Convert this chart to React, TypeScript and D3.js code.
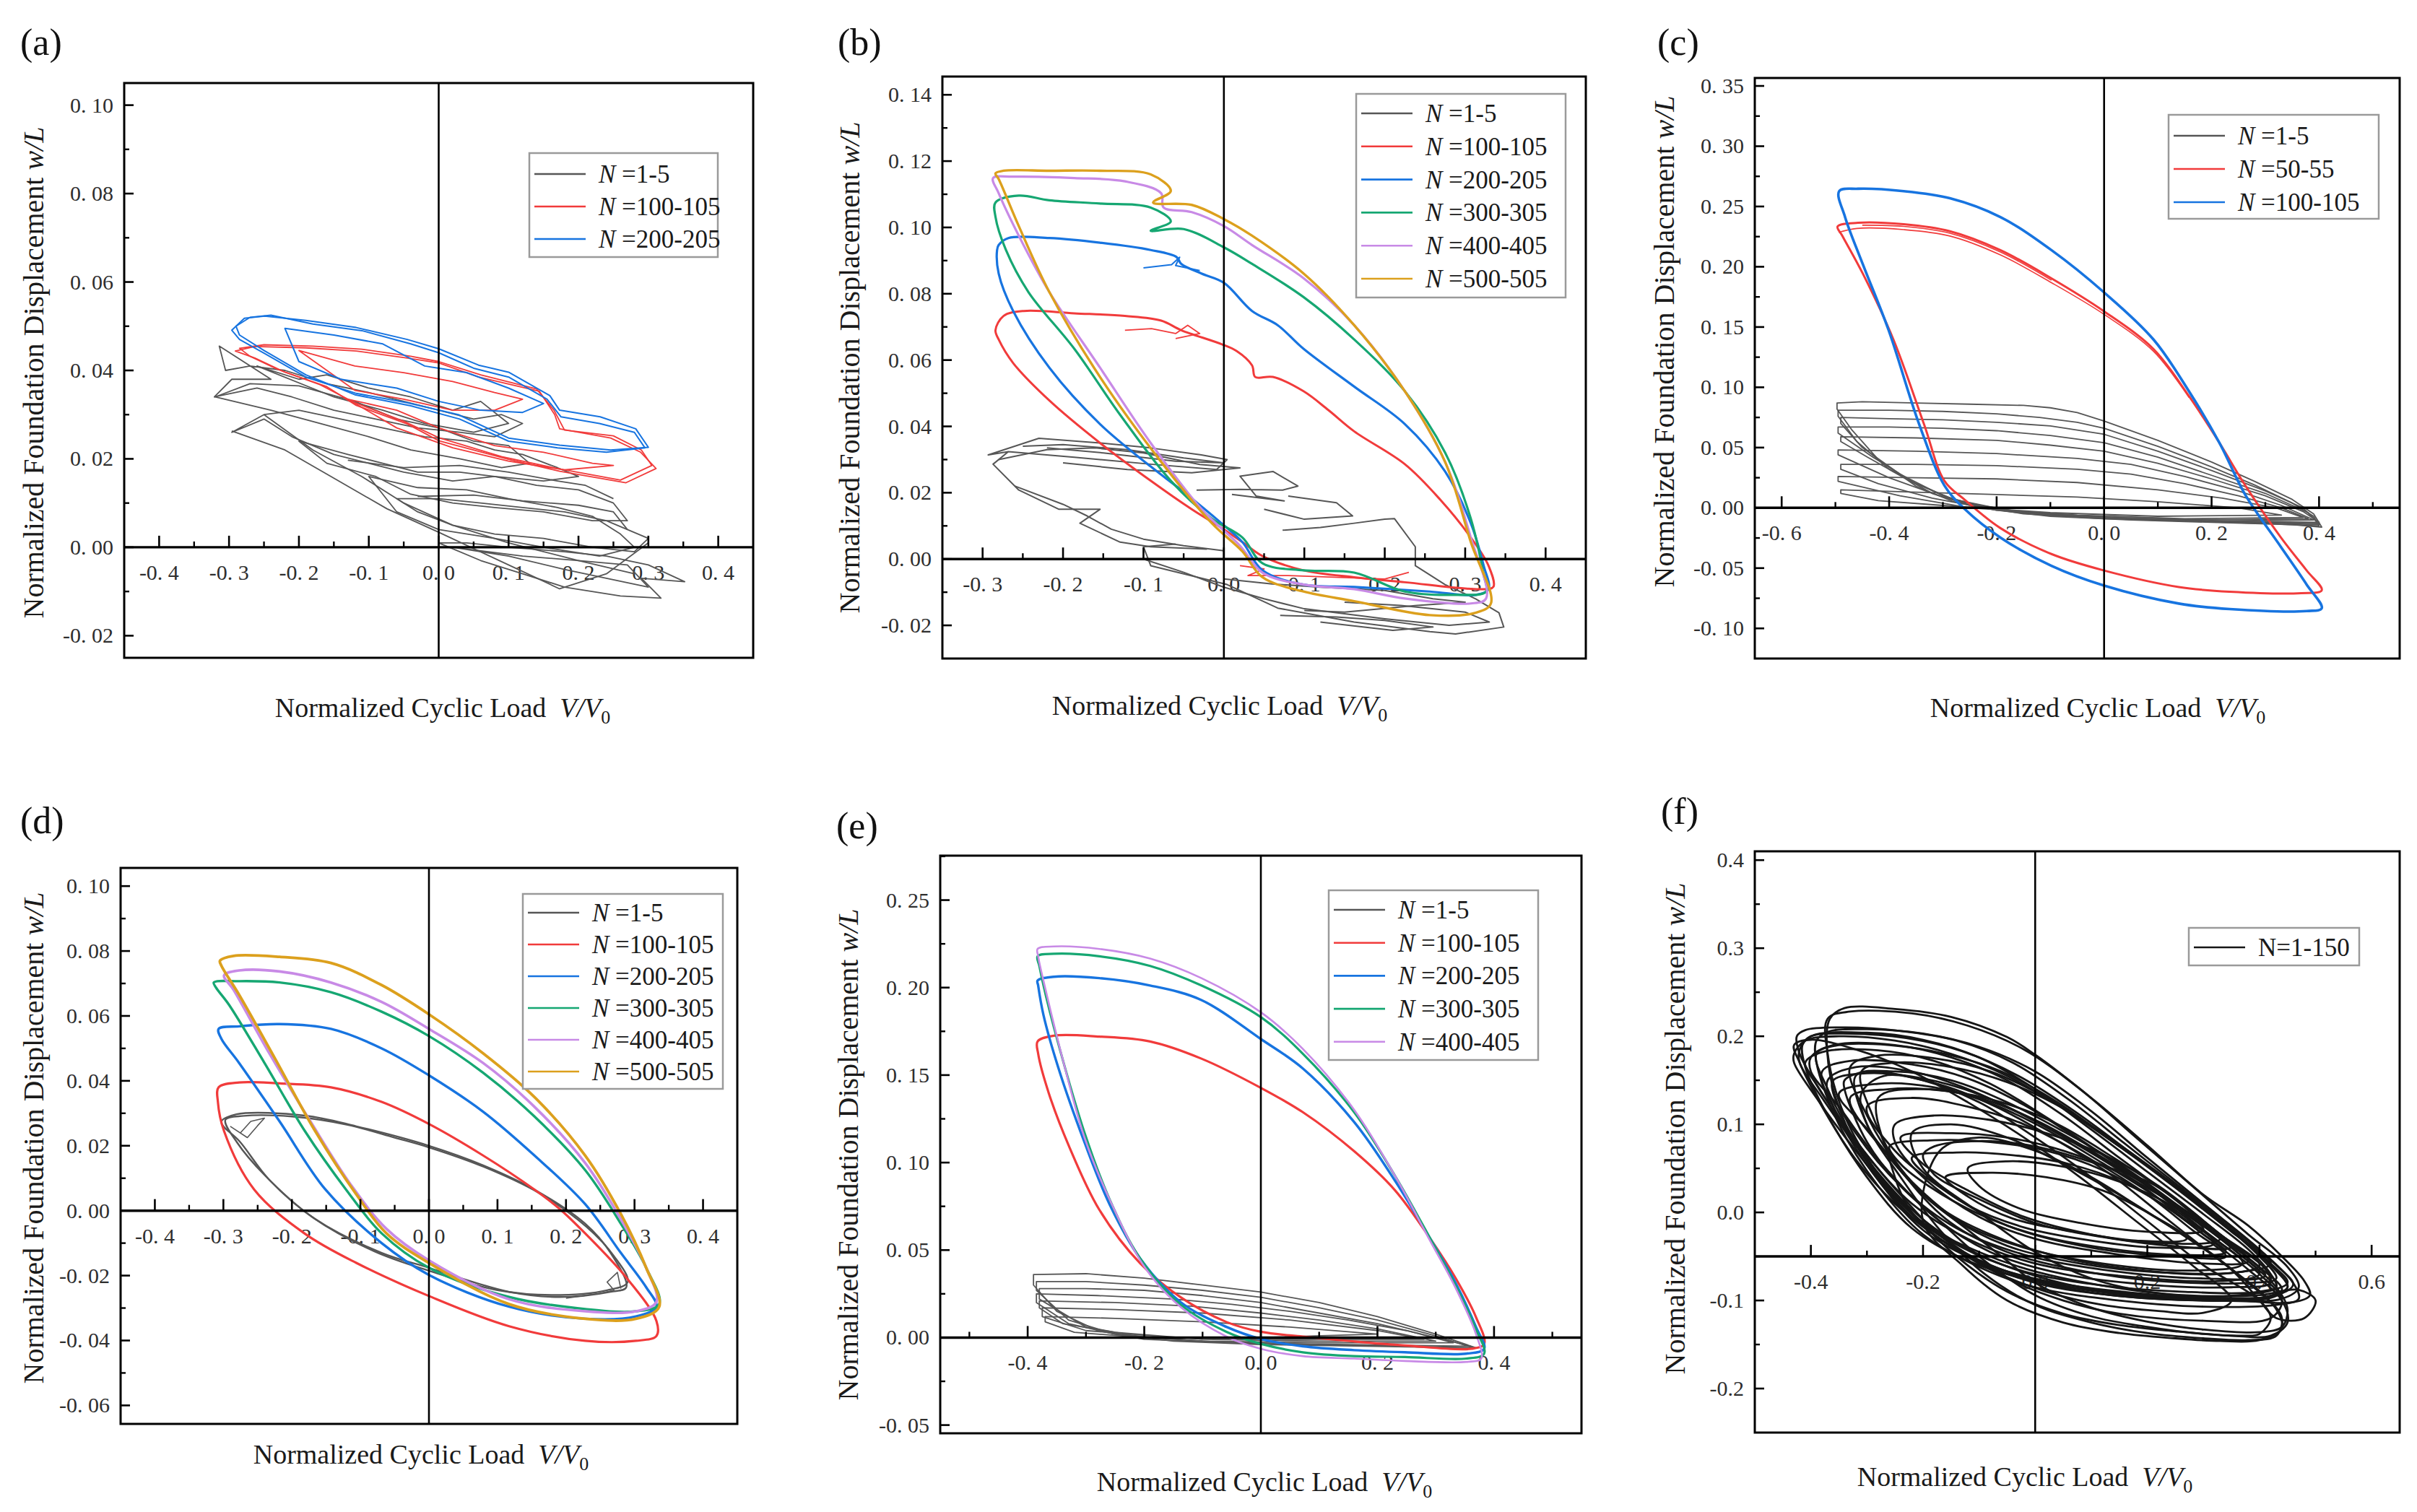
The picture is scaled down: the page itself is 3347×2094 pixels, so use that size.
import React from 'react';
import * as d3 from 'd3';

type Pt = [number, number];
type Loop = Pt[];

const W = 3347;
const H = 2094;
const SERIF = '"Liberation Serif", "Times New Roman", serif';

const GRAY = '#565656';
const RED = '#f13b3b';
const BLUE = '#1774e0';
const GREEN = '#16a772';
const PURPLE = '#c88ae6';
const GOLD = '#dca01d';
const BLACK = '#161616';

// ---------------- panel (a) ----------------
const aGray: Loop[] = [
  [[-0.314, 0.0455], [-0.305, 0.040], [-0.27, 0.041], [-0.22, 0.040], [-0.16, 0.037], [-0.10, 0.035], [-0.05, 0.033], [0.0, 0.031], [0.05, 0.029], [0.09, 0.030], [0.12, 0.028], [0.08, 0.025], [0.03, 0.026], [-0.03, 0.027], [-0.09, 0.029], [-0.15, 0.031], [-0.21, 0.034], [-0.26, 0.036], [-0.321, 0.034], [-0.296, 0.038], [-0.24, 0.038]],
  [[-0.296, 0.026], [-0.25, 0.030], [-0.2, 0.031], [-0.14, 0.029], [-0.08, 0.027], [-0.02, 0.025], [0.04, 0.024], [0.08, 0.022], [0.12, 0.021], [0.17, 0.018], [0.2, 0.016], [0.15, 0.015], [0.08, 0.016], [0.02, 0.015], [-0.05, 0.017], [-0.1, 0.019], [-0.15, 0.021], [-0.21, 0.025], [-0.25, 0.029]],
  [[-0.2, 0.024], [-0.13, 0.021], [-0.08, 0.019], [-0.03, 0.017], [0.03, 0.017], [0.08, 0.016], [0.14, 0.014], [0.2, 0.013], [0.25, 0.010], [0.27, 0.006], [0.22, 0.006], [0.15, 0.008], [0.08, 0.009], [0.02, 0.010], [-0.04, 0.012], [-0.09, 0.016], [-0.16, 0.019]],
  [[-0.06, 0.011], [0.0, 0.011], [0.06, 0.010], [0.12, 0.009], [0.18, 0.008], [0.24, 0.006], [0.27, 0.004], [0.30, 0.002], [0.28, -0.001], [0.22, 0.0], [0.15, 0.002], [0.08, 0.003], [0.02, 0.005], [-0.03, 0.008], [-0.05, 0.010]],
  [[0.0, 0.001], [0.06, -0.003], [0.12, -0.006], [0.18, -0.009], [0.26, -0.011], [0.318, -0.0115], [0.29, -0.007], [0.352, -0.0078], [0.3, -0.004], [0.24, -0.002], [0.18, -0.001], [0.1, 0.0], [0.04, 0.001]],
  [[-0.32, 0.034], [-0.27, 0.037], [-0.2, 0.0365], [-0.12, 0.033], [-0.06, 0.029], [0.0, 0.027], [0.05, 0.024], [0.1, 0.023], [0.13, 0.019], [0.09, 0.018], [0.03, 0.020], [-0.04, 0.022], [-0.1, 0.025], [-0.17, 0.028], [-0.24, 0.031]],
  [[-0.26, 0.041], [-0.2, 0.038], [-0.16, 0.039], [-0.1, 0.036], [-0.04, 0.034], [0.02, 0.031], [0.06, 0.033], [0.1, 0.028], [0.05, 0.026], [-0.02, 0.028], [-0.08, 0.031], [-0.15, 0.034]],
  [[-0.1, 0.016], [-0.03, 0.0135], [0.04, 0.013], [0.1, 0.011], [0.17, 0.009], [0.22, 0.007], [0.26, 0.003], [0.28, 0.0], [0.23, -0.002], [0.15, 0.0], [0.08, 0.002], [0.0, 0.004], [-0.06, 0.008]],
  [[0.02, 0.0], [0.1, -0.002], [0.18, -0.005], [0.24, -0.007], [0.3, -0.009], [0.27, -0.004], [0.2, -0.003], [0.12, -0.002]],
];
const aGrayOpen: Loop[] = [
  [[-0.296, 0.0263], [-0.22, 0.022], [-0.154, 0.016], [-0.074, 0.0087], [0.0, 0.0034], [0.1, -0.004], [0.173, -0.0094], [0.24, -0.006], [0.3, 0.001]],
  [[-0.13, 0.0197], [-0.05, 0.018], [0.03, 0.0185], [0.1, 0.017], [0.17, 0.015], [0.21, 0.014], [0.25, 0.011]],
  [[-0.03, 0.0115], [0.05, 0.0118], [0.12, 0.0105], [0.2, 0.0095], [0.25, 0.008], [0.27, 0.004]],
  [[-0.25, 0.030], [-0.18, 0.022], [-0.11, 0.016], [-0.05, 0.010], [0.02, 0.005], [0.1, 0.001], [0.2, -0.003], [0.28, -0.006]],
];
const aRed: Loop[] = [
  [[-0.291, 0.0444], [-0.263, 0.0454], [-0.19, 0.0451], [-0.118, 0.0444], [-0.045, 0.0428], [0.0, 0.0417], [0.057, 0.0385], [0.144, 0.0353], [0.166, 0.030], [0.173, 0.0268], [0.246, 0.0247], [0.289, 0.0215], [0.311, 0.0178], [0.268, 0.0146], [0.173, 0.0172], [0.1, 0.0199], [0.0, 0.0241], [-0.045, 0.0279], [-0.118, 0.0321], [-0.161, 0.0364], [-0.22, 0.0396], [-0.263, 0.0428]],
  [[-0.285, 0.045], [-0.25, 0.0458], [-0.18, 0.0455], [-0.11, 0.0448], [-0.04, 0.0432], [0.0, 0.042], [0.06, 0.039], [0.14, 0.0358], [0.165, 0.031], [0.18, 0.0265], [0.25, 0.0252], [0.29, 0.022], [0.305, 0.0185], [0.26, 0.0152], [0.17, 0.0178], [0.09, 0.0205], [0.0, 0.0248], [-0.05, 0.0285], [-0.12, 0.0327], [-0.17, 0.0368], [-0.23, 0.0402], [-0.27, 0.0432]],
  [[-0.2, 0.0445], [-0.12, 0.041], [-0.05, 0.0395], [0.02, 0.0375], [0.08, 0.035], [0.12, 0.0335], [0.08, 0.031], [0.02, 0.031], [-0.05, 0.0335], [-0.12, 0.0355]],
  [[-0.13, 0.0335], [-0.06, 0.031], [0.0, 0.027], [0.08, 0.023], [0.15, 0.0215], [0.22, 0.019], [0.25, 0.0185], [0.18, 0.0175], [0.1, 0.0195], [0.02, 0.0225], [-0.06, 0.027]],
];
const aBlue: Loop[] = [
  [[-0.296, 0.0491], [-0.278, 0.0518], [-0.249, 0.0523], [-0.19, 0.0513], [-0.118, 0.0497], [-0.045, 0.047], [0.0, 0.0449], [0.057, 0.0412], [0.1, 0.0396], [0.159, 0.0343], [0.173, 0.031], [0.231, 0.0295], [0.282, 0.0268], [0.3, 0.0226], [0.246, 0.022], [0.173, 0.0231], [0.1, 0.0247], [0.028, 0.030], [-0.045, 0.0327], [-0.118, 0.0348], [-0.19, 0.0385], [-0.249, 0.0438], [-0.285, 0.047]],
  [[-0.29, 0.050], [-0.27, 0.052], [-0.24, 0.0525], [-0.18, 0.0505], [-0.11, 0.049], [-0.04, 0.046], [0.0, 0.044], [0.05, 0.0405], [0.1, 0.0385], [0.155, 0.0335], [0.175, 0.0295], [0.23, 0.028], [0.28, 0.026], [0.295, 0.0225], [0.24, 0.0215], [0.17, 0.0225], [0.1, 0.024], [0.03, 0.029], [-0.04, 0.032], [-0.12, 0.0345], [-0.19, 0.039], [-0.25, 0.0445], [-0.285, 0.048]],
  [[-0.22, 0.0495], [-0.15, 0.048], [-0.08, 0.046], [-0.02, 0.041], [0.04, 0.0395], [0.1, 0.036], [0.15, 0.0325], [0.12, 0.0305], [0.06, 0.031], [0.0, 0.033], [-0.06, 0.036], [-0.14, 0.038], [-0.2, 0.042]],
];

// ---------------- panel (b) ----------------
const bGray: Loop[] = [
  [[-0.268, 0.0324], [-0.293, 0.0314], [-0.23, 0.0364], [-0.154, 0.035], [-0.091, 0.0335], [-0.028, 0.0314], [0.004, 0.030], [-0.009, 0.027], [-0.091, 0.0286], [-0.186, 0.0307], [-0.268, 0.0324], [-0.287, 0.0286], [-0.255, 0.0208], [-0.205, 0.015], [-0.154, 0.015], [-0.179, 0.0108], [-0.129, 0.0051], [-0.091, 0.0037], [-0.021, 0.003]],
  [[-0.25, 0.034], [-0.2, 0.0345], [-0.12, 0.033], [-0.05, 0.0305], [0.0, 0.029], [-0.06, 0.0295], [-0.15, 0.032], [-0.22, 0.0335]],
  [[-0.28, 0.030], [-0.22, 0.033], [-0.16, 0.0335], [-0.1, 0.032], [-0.03, 0.0285], [0.02, 0.0275], [-0.04, 0.026], [-0.12, 0.027], [-0.2, 0.029]],
  [[-0.034, 0.0208], [0.02, 0.021], [0.073, 0.0208], [0.092, 0.022], [0.061, 0.0264], [0.02, 0.025], [0.04, 0.019], [0.075, 0.0175], [0.01, 0.0195]],
  [[0.08, 0.019], [0.14, 0.017], [0.16, 0.013], [0.1, 0.012], [0.05, 0.015]],
  [[-0.26, 0.022], [-0.2, 0.0165], [-0.17, 0.013], [-0.14, 0.009], [-0.1, 0.006], [-0.05, 0.004], [0.0, 0.0025]],
  [[0.073, 0.0087], [0.12, 0.0095], [0.162, 0.0108], [0.2, 0.012], [0.212, 0.0122], [0.238, 0.0037], [0.238, -0.002], [0.275, -0.0077], [0.313, -0.012], [0.342, -0.0162], [0.348, -0.0205], [0.288, -0.0226], [0.256, -0.0219], [0.162, -0.019], [0.067, -0.0148], [0.004, -0.0077], [-0.091, -0.002], [-0.1, 0.0037], [-0.06, 0.0045]],
  [[-0.1, 0.0], [-0.05, -0.004], [0.0, -0.0085], [0.05, -0.012], [0.1, -0.015], [0.2, -0.018], [0.28, -0.020], [0.33, -0.019], [0.3, -0.016], [0.22, -0.014], [0.15, -0.013]],
  [[0.0, -0.006], [0.06, -0.0075], [0.12, -0.0085], [0.2, -0.0095], [0.26, -0.012], [0.3, -0.013], [0.24, -0.014], [0.15, -0.016], [0.1, -0.0155]],
  [[0.07, -0.017], [0.14, -0.0175], [0.2, -0.0185], [0.26, -0.0205], [0.21, -0.0215], [0.12, -0.019]],
];
const bRed: Loop[] = [
  [[-0.284, 0.069], [-0.274, 0.0733], [-0.249, 0.0748], [-0.186, 0.0741], [-0.123, 0.0733], [-0.078, 0.0719], [-0.053, 0.069], [-0.003, 0.0648], [0.016, 0.0627], [0.035, 0.0584], [0.039, 0.0549], [0.061, 0.0549], [0.099, 0.0506], [0.13, 0.0449], [0.162, 0.0385], [0.225, 0.0286], [0.269, 0.0179], [0.307, 0.0065], [0.329, -0.002], [0.335, -0.0084], [0.32, -0.0091], [0.225, -0.007], [0.162, -0.0055], [0.099, -0.0034], [0.048, 0.0009], [0.023, 0.0051], [-0.003, 0.0094], [-0.04, 0.015], [-0.091, 0.0236], [-0.154, 0.035], [-0.217, 0.0478], [-0.262, 0.0591], [-0.28, 0.0662]],
];
const bRedJag: Loop[] = [
  [[-0.123, 0.069], [-0.09, 0.0695], [-0.06, 0.068], [-0.045, 0.0705], [-0.03, 0.068], [-0.06, 0.0665]],
  [[0.02, -0.002], [0.05, -0.003], [0.03, -0.005], [0.08, -0.005], [0.2, -0.006], [0.23, -0.004]],
];
const bBlue: Loop[] = [
  [[-0.28, 0.0947], [-0.268, 0.0968], [-0.217, 0.0968], [-0.154, 0.0954], [-0.091, 0.0932], [-0.059, 0.0911], [-0.053, 0.089], [-0.028, 0.0861], [0.0, 0.0833], [0.035, 0.0748], [0.067, 0.0705], [0.099, 0.0634], [0.162, 0.052], [0.225, 0.0407], [0.275, 0.0264], [0.307, 0.0108], [0.323, -0.002], [0.329, -0.0091], [0.313, -0.0108], [0.256, -0.0098], [0.162, -0.0084], [0.099, -0.0077], [0.048, -0.0034], [0.023, 0.0051], [-0.003, 0.0108], [-0.053, 0.0208], [-0.091, 0.0279], [-0.154, 0.0407], [-0.217, 0.0577], [-0.262, 0.0748], [-0.28, 0.0861], [-0.282, 0.0932]],
];
const bBlueJag: Loop[] = [
  [[-0.1, 0.0878], [-0.065, 0.0888], [-0.055, 0.091], [-0.06, 0.0885], [-0.03, 0.087]],
];
const bGreen: Loop[] = [
  [[-0.284, 0.1075], [-0.255, 0.1096], [-0.217, 0.1082], [-0.154, 0.1072], [-0.091, 0.106], [-0.066, 0.1018], [-0.091, 0.099], [-0.05, 0.0995], [0.0, 0.094], [0.035, 0.089], [0.099, 0.079], [0.162, 0.0662], [0.225, 0.0506], [0.275, 0.0321], [0.307, 0.0122], [0.323, -0.0048], [0.326, -0.0098], [0.288, -0.0108], [0.225, -0.0098], [0.162, -0.0041], [0.099, -0.0034], [0.048, -0.0013], [0.023, 0.0065], [-0.015, 0.0122], [-0.066, 0.0236], [-0.129, 0.0435], [-0.186, 0.0634], [-0.243, 0.0805], [-0.271, 0.0932], [-0.284, 0.1032]],
];
const bPurple: Loop[] = [
  [[-0.287, 0.1149], [-0.262, 0.1153], [-0.186, 0.1149], [-0.123, 0.1139], [-0.078, 0.1103], [-0.075, 0.106], [-0.04, 0.1046], [0.0, 0.1004], [0.035, 0.0947], [0.099, 0.0847], [0.162, 0.0705], [0.225, 0.0506], [0.275, 0.0293], [0.307, 0.0065], [0.326, -0.0119], [0.307, -0.0134], [0.225, -0.0119], [0.162, -0.0091], [0.099, -0.0077], [0.048, -0.0041], [0.02, 0.004], [-0.028, 0.0151], [-0.091, 0.035], [-0.154, 0.0577], [-0.217, 0.0805], [-0.255, 0.0975], [-0.28, 0.1103]],
];
const bGold: Loop[] = [
  [[-0.284, 0.1163], [-0.274, 0.1171], [-0.217, 0.1171], [-0.154, 0.1171], [-0.091, 0.116], [-0.066, 0.111], [-0.088, 0.1075], [-0.04, 0.1068], [0.0, 0.1025], [0.035, 0.0975], [0.099, 0.0861], [0.162, 0.0705], [0.225, 0.0506], [0.275, 0.0293], [0.307, 0.0051], [0.332, -0.0134], [0.313, -0.0162], [0.256, -0.0169], [0.162, -0.0127], [0.099, -0.0098], [0.048, -0.0055], [0.023, 0.0023], [-0.015, 0.0108], [-0.078, 0.0293], [-0.154, 0.0549], [-0.217, 0.0805], [-0.255, 0.1004], [-0.28, 0.1146]],
];

// ---------------- panel (c) ----------------
const cGray: Loop[] = [
  [[-0.497, 0.087], [-0.45, 0.088], [-0.35, 0.087], [-0.25, 0.086], [-0.15, 0.085], [-0.1, 0.083], [-0.05, 0.079], [0.0, 0.072], [0.1, 0.056], [0.2, 0.038], [0.28, 0.022], [0.35, 0.007], [0.39, -0.005], [0.405, -0.016], [0.35, -0.014], [0.2, -0.012], [0.05, -0.010], [-0.1, -0.007], [-0.2, -0.002], [-0.28, 0.005], [-0.35, 0.018], [-0.42, 0.040], [-0.47, 0.065], [-0.497, 0.082]],
  [[-0.495, 0.081], [-0.4, 0.081], [-0.3, 0.080], [-0.2, 0.078], [-0.12, 0.075], [-0.05, 0.071], [0.0, 0.066], [0.1, 0.051], [0.2, 0.034], [0.28, 0.019], [0.35, 0.004], [0.39, -0.007], [0.40, -0.015], [0.3, -0.013], [0.15, -0.011], [0.0, -0.009], [-0.15, -0.005], [-0.25, 0.002], [-0.32, 0.012], [-0.4, 0.032], [-0.46, 0.055], [-0.495, 0.076]],
  [[-0.49, 0.075], [-0.4, 0.074], [-0.3, 0.073], [-0.2, 0.071], [-0.1, 0.068], [0.0, 0.061], [0.1, 0.047], [0.2, 0.031], [0.3, 0.014], [0.37, 0.0], [0.40, -0.013], [0.3, -0.012], [0.1, -0.010], [-0.1, -0.006], [-0.22, 0.0], [-0.3, 0.010], [-0.38, 0.028], [-0.45, 0.050], [-0.49, 0.070]],
  [[-0.495, 0.067], [-0.4, 0.067], [-0.3, 0.066], [-0.2, 0.064], [-0.1, 0.060], [0.0, 0.054], [0.1, 0.042], [0.2, 0.027], [0.3, 0.012], [0.38, -0.004], [0.40, -0.014], [0.25, -0.012], [0.05, -0.009], [-0.15, -0.004], [-0.27, 0.005], [-0.35, 0.020], [-0.43, 0.042], [-0.495, 0.062]],
  [[-0.49, 0.059], [-0.35, 0.058], [-0.2, 0.056], [-0.1, 0.052], [0.0, 0.047], [0.1, 0.037], [0.2, 0.024], [0.3, 0.010], [0.37, -0.003], [0.40, -0.012], [0.2, -0.011], [0.0, -0.008], [-0.18, -0.002], [-0.28, 0.007], [-0.36, 0.022], [-0.44, 0.042], [-0.49, 0.055]],
  [[-0.495, 0.048], [-0.35, 0.047], [-0.2, 0.045], [-0.05, 0.041], [0.05, 0.036], [0.15, 0.026], [0.25, 0.014], [0.33, 0.002], [0.39, -0.010], [0.2, -0.011], [-0.05, -0.007], [-0.2, -0.001], [-0.3, 0.009], [-0.4, 0.025], [-0.495, 0.044]],
  [[-0.49, 0.036], [-0.35, 0.036], [-0.2, 0.035], [-0.05, 0.032], [0.05, 0.028], [0.15, 0.020], [0.25, 0.010], [0.33, 0.0], [0.38, -0.009], [0.2, -0.010], [0.0, -0.008], [-0.2, -0.002], [-0.32, 0.008], [-0.42, 0.020], [-0.49, 0.032]],
  [[-0.495, 0.026], [-0.35, 0.025], [-0.2, 0.024], [-0.05, 0.021], [0.1, 0.015], [0.22, 0.008], [0.32, 0.0], [0.37, -0.008], [0.15, -0.009], [-0.05, -0.006], [-0.25, 0.0], [-0.38, 0.010], [-0.495, 0.022]],
  [[-0.49, 0.015], [-0.35, 0.013], [-0.2, 0.011], [-0.05, 0.009], [0.1, 0.005], [0.25, 0.0], [0.33, -0.006], [0.1, -0.007], [-0.1, -0.004], [-0.3, 0.002], [-0.42, 0.006], [-0.49, 0.012]],
];
const cRed: Loop[] = [
  [[-0.496, 0.2334], [-0.458, 0.2365], [-0.373, 0.2353], [-0.287, 0.2295], [-0.193, 0.2138], [-0.098, 0.1904], [0.0, 0.163], [0.092, 0.1317], [0.158, 0.0926], [0.215, 0.0536], [0.263, 0.0184], [0.329, -0.0246], [0.377, -0.052], [0.405, -0.0684], [0.367, -0.0708], [0.234, -0.0696], [0.139, -0.0657], [0.0, -0.052], [-0.098, -0.0383], [-0.193, -0.0168], [-0.259, 0.0066], [-0.297, 0.0223], [-0.335, 0.0692], [-0.392, 0.1396], [-0.449, 0.1943], [-0.487, 0.2256]],
];
const cRedExtra: Loop[] = [
  [[-0.494, 0.2285], [-0.46, 0.2318], [-0.373, 0.2308], [-0.287, 0.2255], [-0.193, 0.2098], [-0.098, 0.1868], [0.0, 0.1605], [0.092, 0.1298], [0.158, 0.0915]],
  [[-0.45, 0.2345], [-0.373, 0.2335], [-0.287, 0.2278], [-0.193, 0.2122], [-0.098, 0.1888]],
];
const cBlue: Loop[] = [
  [[-0.493, 0.2627], [-0.458, 0.2647], [-0.373, 0.2627], [-0.287, 0.2568], [-0.193, 0.2412], [-0.098, 0.2138], [0.0, 0.1787], [0.092, 0.1396], [0.158, 0.0966], [0.215, 0.0536], [0.263, 0.0106], [0.329, -0.0324], [0.377, -0.0637], [0.405, -0.0833], [0.377, -0.0856], [0.234, -0.084], [0.139, -0.0794], [0.0, -0.0645], [-0.098, -0.0481], [-0.193, -0.0246], [-0.259, -0.0012], [-0.297, 0.0184], [-0.344, 0.0692], [-0.401, 0.1474], [-0.449, 0.2021], [-0.482, 0.2412]],
];

// ---------------- panel (d) ----------------
const dGray: Loop[] = [
  [[-0.303, 0.0275], [-0.281, 0.0297], [-0.181, 0.0293], [-0.106, 0.026], [0.0, 0.020], [0.079, 0.014], [0.154, 0.0065], [0.228, -0.004], [0.265, -0.013], [0.288, -0.0236], [0.265, -0.025], [0.191, -0.0266], [0.117, -0.025], [0.0, -0.0176], [-0.069, -0.013], [-0.166, -0.0026], [-0.233, 0.0095], [-0.277, 0.0215], [-0.3, 0.026]],
  [[-0.297, 0.028], [-0.27, 0.0292], [-0.2, 0.029], [-0.12, 0.0265], [-0.05, 0.0225], [0.0, 0.0195], [0.08, 0.0135], [0.16, 0.0055], [0.23, -0.005], [0.27, -0.014], [0.29, -0.022], [0.26, -0.0245], [0.18, -0.026], [0.1, -0.0245], [0.0, -0.0185], [-0.08, -0.0125], [-0.17, -0.002], [-0.24, 0.011], [-0.28, 0.021]],
];
const dGrayJag: Loop[] = [
  [[-0.29, 0.026], [-0.265, 0.0225], [-0.25, 0.0262], [-0.24, 0.0285], [-0.26, 0.0275], [-0.275, 0.024]],
  [[0.2, -0.027], [0.25, -0.0255], [0.27, -0.0245], [0.26, -0.022], [0.275, -0.019], [0.28, -0.024]],
];
const dRed: Loop[] = [
  [[-0.307, 0.038], [-0.277, 0.0395], [-0.218, 0.0392], [-0.143, 0.038], [-0.069, 0.0335], [0.0, 0.0267], [0.079, 0.017], [0.154, 0.0065], [0.191, 0.0005], [0.228, -0.007], [0.288, -0.0206], [0.332, -0.034], [0.332, -0.0386], [0.302, -0.0401], [0.228, -0.0401], [0.117, -0.0356], [0.0, -0.0263], [-0.106, -0.0161], [-0.181, -0.0071], [-0.255, 0.0065], [-0.299, 0.0245], [-0.308, 0.0335]],
];
const dBlue: Loop[] = [
  [[-0.307, 0.056], [-0.277, 0.0568], [-0.218, 0.0575], [-0.143, 0.056], [-0.069, 0.050], [0.0, 0.0417], [0.079, 0.0305], [0.154, 0.017], [0.228, 0.002], [0.28, -0.013], [0.317, -0.0236], [0.332, -0.0296], [0.302, -0.0326], [0.228, -0.0333], [0.117, -0.0296], [0.0, -0.0198], [-0.069, -0.010], [-0.151, 0.0065], [-0.218, 0.0275], [-0.277, 0.0455], [-0.303, 0.053]],
];
const dGreen: Loop[] = [
  [[-0.314, 0.0703], [-0.277, 0.0707], [-0.218, 0.0703], [-0.143, 0.0673], [-0.069, 0.0613], [0.0, 0.0538], [0.079, 0.0425], [0.154, 0.029], [0.228, 0.0125], [0.28, -0.004], [0.317, -0.0176], [0.336, -0.0288], [0.302, -0.031], [0.228, -0.0303], [0.117, -0.0266], [0.0, -0.0176], [-0.069, -0.007], [-0.121, 0.0065], [-0.181, 0.0245], [-0.24, 0.0455], [-0.292, 0.0635], [-0.311, 0.0688]],
];
const dPurple: Loop[] = [
  [[-0.299, 0.0725], [-0.277, 0.074], [-0.218, 0.0737], [-0.143, 0.0703], [-0.069, 0.0643], [0.0, 0.056], [0.079, 0.0455], [0.154, 0.032], [0.228, 0.0147], [0.28, -0.0026], [0.317, -0.0176], [0.332, -0.0281], [0.302, -0.031], [0.228, -0.031], [0.117, -0.0273], [0.0, -0.0153], [-0.062, -0.0056], [-0.114, 0.008], [-0.173, 0.0275], [-0.233, 0.0485], [-0.285, 0.068]],
];
const dGold: Loop[] = [
  [[-0.305, 0.077], [-0.285, 0.0785], [-0.218, 0.0782], [-0.143, 0.0763], [-0.069, 0.0695], [0.0, 0.0605], [0.079, 0.0485], [0.154, 0.035], [0.228, 0.017], [0.28, -0.001], [0.317, -0.0176], [0.336, -0.0296], [0.302, -0.0333], [0.228, -0.0333], [0.117, -0.0288], [0.0, -0.0161], [-0.062, -0.007], [-0.106, 0.005], [-0.166, 0.0245], [-0.225, 0.047], [-0.277, 0.0665], [-0.303, 0.0755]],
];

// ---------------- panel (e) ----------------
const eGray: Loop[] = [
  [[-0.39, 0.036], [-0.3, 0.0365], [-0.2, 0.034], [-0.1, 0.030], [0.0, 0.026], [0.1, 0.020], [0.2, 0.012], [0.3, 0.002], [0.37, -0.006], [0.25, -0.005], [0.1, -0.004], [-0.05, -0.003], [-0.2, -0.001], [-0.28, 0.004], [-0.35, 0.015], [-0.39, 0.030]],
  [[-0.385, 0.032], [-0.3, 0.032], [-0.2, 0.030], [-0.1, 0.027], [0.0, 0.023], [0.1, 0.017], [0.2, 0.010], [0.3, 0.001], [0.365, -0.006], [0.2, -0.005], [0.0, -0.004], [-0.15, -0.002], [-0.25, 0.002], [-0.33, 0.010], [-0.385, 0.027]],
  [[-0.38, 0.028], [-0.3, 0.028], [-0.2, 0.027], [-0.1, 0.024], [0.0, 0.020], [0.1, 0.014], [0.2, 0.008], [0.3, 0.0], [0.36, -0.005], [0.15, -0.004], [-0.05, -0.003], [-0.2, 0.0], [-0.3, 0.006], [-0.38, 0.022]],
  [[-0.385, 0.025], [-0.28, 0.024], [-0.15, 0.022], [-0.05, 0.019], [0.05, 0.015], [0.15, 0.010], [0.25, 0.004], [0.33, -0.003], [0.1, -0.003], [-0.1, -0.002], [-0.25, 0.002], [-0.33, 0.008], [-0.385, 0.020]],
  [[-0.38, 0.021], [-0.25, 0.020], [-0.12, 0.018], [0.0, 0.014], [0.1, 0.010], [0.2, 0.005], [0.3, -0.002], [0.1, -0.002], [-0.1, -0.001], [-0.25, 0.003], [-0.34, 0.008], [-0.38, 0.017]],
  [[-0.375, 0.017], [-0.25, 0.016], [-0.1, 0.014], [0.05, 0.010], [0.2, 0.004], [0.28, -0.001], [0.05, -0.001], [-0.15, 0.0], [-0.3, 0.004], [-0.375, 0.012]],
  [[-0.37, 0.012], [-0.25, 0.011], [-0.1, 0.009], [0.05, 0.006], [0.2, 0.002], [0.0, 0.0], [-0.2, 0.0], [-0.32, 0.003], [-0.37, 0.009]],
];
const eRed: Loop[] = [
  [[-0.383, 0.1692], [-0.355, 0.1725], [-0.277, 0.172], [-0.19, 0.1692], [-0.102, 0.1594], [0.0, 0.1427], [0.072, 0.1288], [0.16, 0.1065], [0.23, 0.0842], [0.291, 0.0563], [0.334, 0.034], [0.369, 0.0117], [0.383, -0.0036], [0.361, -0.0064], [0.247, -0.0045], [0.16, -0.0022], [0.072, 0.0006], [0.0, 0.0033], [-0.059, 0.0089], [-0.137, 0.0229], [-0.207, 0.0424], [-0.277, 0.073], [-0.329, 0.1093], [-0.364, 0.1399], [-0.382, 0.1622]],
];
const eBlue: Loop[] = [
  [[-0.383, 0.204], [-0.355, 0.2062], [-0.277, 0.2054], [-0.19, 0.2012], [-0.102, 0.1929], [0.0, 0.1706], [0.072, 0.1538], [0.16, 0.1232], [0.23, 0.0897], [0.291, 0.0563], [0.334, 0.0312], [0.369, 0.0061], [0.383, -0.0064], [0.352, -0.0092], [0.247, -0.0084], [0.16, -0.0072], [0.072, -0.005], [0.0, -0.0008], [-0.059, 0.0061], [-0.137, 0.0201], [-0.207, 0.0452], [-0.259, 0.0758], [-0.303, 0.112], [-0.347, 0.1538], [-0.373, 0.1845], [-0.382, 0.2012]],
];
const eGreen: Loop[] = [
  [[-0.383, 0.2179], [-0.355, 0.2193], [-0.277, 0.2179], [-0.19, 0.2124], [-0.102, 0.2012], [0.0, 0.1831], [0.072, 0.1622], [0.16, 0.1288], [0.23, 0.0925], [0.291, 0.0563], [0.334, 0.0298], [0.369, 0.0047], [0.383, -0.0092], [0.352, -0.012], [0.247, -0.0111], [0.16, -0.0106], [0.072, -0.0084], [0.0, -0.0036], [-0.059, 0.0033], [-0.137, 0.0187], [-0.207, 0.0452], [-0.259, 0.0786], [-0.303, 0.1176], [-0.338, 0.1566], [-0.369, 0.1957], [-0.38, 0.2124]],
];
const ePurple: Loop[] = [
  [[-0.383, 0.2221], [-0.355, 0.2235], [-0.277, 0.2221], [-0.19, 0.2166], [-0.102, 0.2054], [0.0, 0.1859], [0.072, 0.165], [0.16, 0.1302], [0.23, 0.0925], [0.291, 0.0549], [0.334, 0.0284], [0.369, 0.002], [0.378, -0.012], [0.352, -0.0139], [0.247, -0.0134], [0.16, -0.012], [0.072, -0.0106], [0.0, -0.0064], [-0.059, 0.0006], [-0.137, 0.0173], [-0.198, 0.0396], [-0.259, 0.0786], [-0.303, 0.1148], [-0.338, 0.1566], [-0.369, 0.1984], [-0.382, 0.2179]],
];

// ---------------- panel (f) ----------------
const fBlack: Loop[] = [
  [[-0.366, 0.22], [-0.34, 0.232], [-0.25, 0.231], [-0.15, 0.222], [-0.05, 0.199], [0.0, 0.179], [0.1, 0.13], [0.2, 0.076], [0.3, 0.02], [0.38, -0.015], [0.44, -0.05], [0.48, -0.078], [0.49, -0.094], [0.46, -0.102], [0.35, -0.099], [0.17, -0.088], [0.0, -0.067], [-0.1, -0.045], [-0.2, -0.012], [-0.29, 0.048], [-0.35, 0.119], [-0.371, 0.184]],
  [[-0.42, 0.185], [-0.4, 0.2], [-0.3, 0.204], [-0.2, 0.196], [-0.1, 0.176], [0.0, 0.14], [0.1, 0.094], [0.2, 0.046], [0.3, -0.002], [0.38, -0.042], [0.42, -0.07], [0.43, -0.085], [0.38, -0.093], [0.25, -0.095], [0.1, -0.087], [0.0, -0.072], [-0.1, -0.048], [-0.2, -0.008], [-0.3, 0.06], [-0.38, 0.13], [-0.42, 0.17]],
  [[-0.40, 0.176], [-0.36, 0.19], [-0.25, 0.19], [-0.15, 0.176], [-0.05, 0.15], [0.05, 0.11], [0.15, 0.062], [0.25, 0.015], [0.34, -0.03], [0.41, -0.064], [0.42, -0.08], [0.35, -0.085], [0.2, -0.082], [0.05, -0.07], [-0.08, -0.045], [-0.18, -0.005], [-0.28, 0.06], [-0.35, 0.12], [-0.40, 0.16]],
  [[-0.38, 0.16], [-0.33, 0.172], [-0.22, 0.168], [-0.12, 0.152], [-0.02, 0.122], [0.08, 0.082], [0.18, 0.04], [0.28, -0.006], [0.36, -0.045], [0.4, -0.07], [0.33, -0.078], [0.15, -0.072], [0.0, -0.058], [-0.12, -0.03], [-0.22, 0.01], [-0.3, 0.065], [-0.36, 0.12]],
  [[-0.36, 0.15], [-0.3, 0.158], [-0.2, 0.152], [-0.1, 0.134], [0.0, 0.104], [0.1, 0.068], [0.2, 0.03], [0.3, -0.012], [0.38, -0.052], [0.41, -0.072], [0.3, -0.075], [0.12, -0.065], [-0.02, -0.048], [-0.14, -0.018], [-0.24, 0.03], [-0.32, 0.09], [-0.36, 0.135]],
  [[-0.2, 0.02], [-0.12, -0.02], [-0.05, -0.055], [0.0, -0.08], [0.1, -0.108], [0.2, -0.124], [0.3, -0.133], [0.4, -0.136], [0.44, -0.13], [0.45, -0.11], [0.43, -0.085], [0.35, -0.04], [0.25, 0.01], [0.15, 0.055], [0.05, 0.092], [-0.05, 0.125], [-0.15, 0.15], [-0.25, 0.16], [-0.32, 0.155], [-0.3, 0.1], [-0.25, 0.055]],
  [[-0.22, 0.0], [-0.15, -0.035], [-0.05, -0.075], [0.05, -0.1], [0.15, -0.115], [0.3, -0.123], [0.42, -0.12], [0.44, -0.1], [0.4, -0.07], [0.3, -0.02], [0.2, 0.03], [0.1, 0.07], [0.0, 0.105], [-0.1, 0.13], [-0.2, 0.14], [-0.28, 0.13], [-0.26, 0.06]],
  [[-0.34, 0.14], [-0.3, 0.08], [-0.24, 0.03], [-0.17, -0.01], [-0.1, -0.05], [0.0, -0.094], [0.1, -0.118], [0.2, -0.13], [0.3, -0.138], [0.37, -0.14], [0.4, -0.138], [0.42, -0.12], [0.4, -0.1], [0.3, -0.06], [0.2, -0.01], [0.1, 0.04], [0.0, 0.085], [-0.1, 0.125], [-0.2, 0.15], [-0.3, 0.16], [-0.34, 0.15]],
  [[-0.18, 0.075], [-0.1, 0.081], [0.0, 0.075], [0.12, 0.053], [0.21, 0.032], [0.3, -0.012], [0.35, -0.039], [0.26, -0.039], [0.12, -0.028], [0.0, -0.012], [-0.1, 0.015], [-0.18, 0.043], [-0.2, 0.065]],
  [[-0.25, 0.1], [-0.18, 0.11], [-0.08, 0.105], [0.02, 0.09], [0.12, 0.066], [0.22, 0.03], [0.32, -0.02], [0.38, -0.055], [0.3, -0.058], [0.15, -0.048], [0.0, -0.03], [-0.1, -0.005], [-0.2, 0.04], [-0.25, 0.08]],
  [[-0.12, 0.05], [-0.05, 0.058], [0.05, 0.052], [0.15, 0.035], [0.25, 0.005], [0.3, -0.02], [0.2, -0.022], [0.08, -0.012], [-0.03, 0.005], [-0.1, 0.03]],
  [[-0.43, 0.18], [-0.41, 0.195], [-0.35, 0.2], [-0.25, 0.195], [-0.15, 0.18], [-0.05, 0.155], [0.05, 0.118], [0.15, 0.075], [0.25, 0.03], [0.35, -0.02], [0.42, -0.06], [0.45, -0.085], [0.42, -0.097], [0.3, -0.1], [0.15, -0.095], [0.0, -0.08], [-0.12, -0.05], [-0.22, -0.005], [-0.32, 0.07], [-0.39, 0.13], [-0.43, 0.17]],
  [[-0.33, 0.165], [-0.28, 0.178], [-0.18, 0.175], [-0.08, 0.16], [0.02, 0.13], [0.12, 0.09], [0.22, 0.045], [0.32, -0.005], [0.4, -0.05], [0.43, -0.075], [0.38, -0.08], [0.22, -0.078], [0.08, -0.066], [-0.05, -0.045], [-0.15, -0.012], [-0.23, 0.04], [-0.3, 0.11]],
  [[-0.39, 0.195], [-0.37, 0.205], [-0.3, 0.208], [-0.2, 0.203], [-0.1, 0.188], [0.0, 0.16], [0.1, 0.115], [0.2, 0.062], [0.3, 0.01], [0.4, -0.042], [0.46, -0.08], [0.47, -0.098], [0.43, -0.105], [0.3, -0.107], [0.15, -0.1], [0.0, -0.085], [-0.1, -0.062], [-0.2, -0.025], [-0.28, 0.03], [-0.35, 0.1], [-0.39, 0.17]],
  [[-0.3, 0.12], [-0.22, 0.13], [-0.12, 0.12], [-0.02, 0.1], [0.1, 0.06], [0.2, 0.02], [0.28, -0.02], [0.34, -0.05], [0.25, -0.05], [0.1, -0.04], [-0.05, -0.015], [-0.15, 0.02], [-0.25, 0.07]],
  [[-0.24, 0.085], [-0.15, 0.09], [-0.05, 0.085], [0.05, 0.07], [0.15, 0.045], [0.25, 0.008], [0.33, -0.03], [0.22, -0.035], [0.1, -0.025], [-0.02, -0.005], [-0.12, 0.025], [-0.2, 0.055]],
  [[-0.41, 0.17], [-0.38, 0.182], [-0.28, 0.184], [-0.18, 0.172], [-0.08, 0.146], [0.02, 0.108], [0.12, 0.066], [0.22, 0.022], [0.32, -0.024], [0.4, -0.062], [0.44, -0.088], [0.4, -0.098], [0.25, -0.099], [0.1, -0.091], [-0.03, -0.072], [-0.15, -0.036], [-0.24, 0.02], [-0.33, 0.09], [-0.39, 0.145]],
  [[-0.35, 0.135], [-0.28, 0.146], [-0.18, 0.142], [-0.08, 0.124], [0.02, 0.094], [0.12, 0.056], [0.22, 0.016], [0.31, -0.026], [0.37, -0.058], [0.28, -0.066], [0.12, -0.058], [-0.02, -0.04], [-0.13, -0.012], [-0.22, 0.035], [-0.3, 0.095]],
  [[-0.415, 0.19], [-0.4, 0.2], [-0.33, 0.203], [-0.23, 0.198], [-0.13, 0.183], [-0.03, 0.155], [0.07, 0.115], [0.17, 0.068], [0.27, 0.02], [0.37, -0.03], [0.43, -0.065], [0.45, -0.085], [0.41, -0.096], [0.3, -0.098], [0.15, -0.092], [0.0, -0.078], [-0.12, -0.055], [-0.22, -0.018], [-0.3, 0.04], [-0.37, 0.11], [-0.41, 0.165]],
  [[-0.36, 0.12], [-0.3, 0.06], [-0.22, 0.0], [-0.14, -0.05], [-0.05, -0.09], [0.05, -0.115], [0.15, -0.128], [0.25, -0.135], [0.35, -0.14], [0.42, -0.14], [0.45, -0.125], [0.44, -0.1], [0.38, -0.065], [0.28, -0.015], [0.18, 0.035], [0.08, 0.075], [-0.02, 0.11], [-0.12, 0.14], [-0.22, 0.16], [-0.32, 0.165], [-0.37, 0.15]],
  [[-0.3, 0.1], [-0.24, 0.04], [-0.17, -0.02], [-0.09, -0.07], [0.0, -0.105], [0.1, -0.125], [0.2, -0.137], [0.3, -0.143], [0.38, -0.145], [0.43, -0.14], [0.44, -0.12], [0.41, -0.095], [0.33, -0.055], [0.23, -0.005], [0.13, 0.045], [0.03, 0.085], [-0.07, 0.12], [-0.17, 0.145], [-0.27, 0.155], [-0.31, 0.135]],
  [[-0.37, 0.22], [-0.33, 0.228], [-0.22, 0.226], [-0.12, 0.212], [-0.02, 0.185], [0.08, 0.14], [0.18, 0.085], [0.28, 0.03], [0.38, -0.025], [0.45, -0.062], [0.47, -0.085], [0.44, -0.098], [0.32, -0.1], [0.18, -0.095], [0.04, -0.082], [-0.08, -0.06], [-0.18, -0.025], [-0.27, 0.035], [-0.34, 0.11], [-0.37, 0.18]],
  [[-0.26, 0.075], [-0.18, 0.082], [-0.08, 0.08], [0.02, 0.07], [0.12, 0.048], [0.22, 0.012], [0.3, -0.025], [0.34, -0.045], [0.25, -0.048], [0.12, -0.04], [0.0, -0.025], [-0.1, -0.002], [-0.19, 0.03], [-0.24, 0.055]],
  [[-0.22, 0.062], [-0.14, 0.068], [-0.04, 0.065], [0.06, 0.055], [0.16, 0.033], [0.26, -0.005], [0.32, -0.035], [0.22, -0.04], [0.1, -0.032], [-0.02, -0.017], [-0.12, 0.008], [-0.19, 0.04]],
  [[-0.33, 0.13], [-0.26, 0.14], [-0.16, 0.138], [-0.06, 0.125], [0.04, 0.1], [0.14, 0.062], [0.24, 0.02], [0.33, -0.025], [0.4, -0.06], [0.33, -0.07], [0.18, -0.065], [0.04, -0.05], [-0.08, -0.025], [-0.18, 0.01], [-0.27, 0.07]],
  [[-0.39, 0.18], [-0.35, 0.19], [-0.26, 0.19], [-0.16, 0.18], [-0.06, 0.16], [0.04, 0.125], [0.14, 0.08], [0.24, 0.035], [0.34, -0.015], [0.42, -0.058], [0.45, -0.08], [0.4, -0.09], [0.26, -0.09], [0.12, -0.083], [-0.02, -0.067], [-0.13, -0.04], [-0.23, 0.005], [-0.31, 0.07], [-0.37, 0.14]],
  [[-0.425, 0.2], [-0.41, 0.207], [-0.34, 0.21], [-0.24, 0.206], [-0.14, 0.195], [-0.04, 0.17], [0.06, 0.128], [0.16, 0.078], [0.26, 0.028], [0.36, -0.022], [0.43, -0.06], [0.46, -0.082], [0.43, -0.094], [0.32, -0.097], [0.17, -0.091], [0.02, -0.078], [-0.1, -0.056], [-0.2, -0.02], [-0.29, 0.045], [-0.37, 0.125], [-0.42, 0.18]],
  [[-0.2, 0.05], [-0.1, 0.0], [0.0, -0.045], [0.1, -0.075], [0.2, -0.09], [0.3, -0.095], [0.4, -0.094], [0.47, -0.088], [0.5, -0.1], [0.48, -0.12], [0.43, -0.12], [0.4, -0.1], [0.35, -0.065], [0.25, -0.02], [0.15, 0.02], [0.05, 0.055], [-0.05, 0.085], [-0.15, 0.1], [-0.22, 0.09]],
  [[-0.2, -0.01], [-0.13, -0.06], [-0.05, -0.1], [0.05, -0.125], [0.15, -0.137], [0.25, -0.143], [0.33, -0.146], [0.4, -0.145], [0.44, -0.132], [0.43, -0.11], [0.38, -0.08], [0.3, -0.04], [0.2, 0.0], [0.1, 0.04], [0.0, 0.07], [-0.1, 0.085], [-0.17, 0.07]],
  [[-0.31, 0.16], [-0.25, 0.17], [-0.15, 0.165], [-0.05, 0.148], [0.05, 0.118], [0.15, 0.075], [0.25, 0.028], [0.35, -0.022], [0.42, -0.058], [0.36, -0.068], [0.22, -0.068], [0.08, -0.058], [-0.05, -0.038], [-0.15, -0.005], [-0.24, 0.05], [-0.29, 0.11]],
  [[-0.43, 0.19], [-0.42, 0.17], [-0.38, 0.12], [-0.32, 0.06], [-0.25, 0.01], [-0.17, -0.03], [-0.08, -0.065], [0.02, -0.09], [0.12, -0.105], [0.22, -0.112], [0.3, -0.114], [0.35, -0.1], [0.28, -0.06], [0.18, -0.01], [0.08, 0.04], [-0.02, 0.085], [-0.12, 0.125], [-0.22, 0.16], [-0.32, 0.185], [-0.4, 0.196]],
  [[-0.16, 0.04], [-0.08, 0.045], [0.02, 0.04], [0.12, 0.025], [0.2, 0.0], [0.27, -0.03], [0.18, -0.032], [0.07, -0.022], [-0.04, -0.007], [-0.12, 0.018]],
];

// ---------------- legends / ticks ----------------
const legendABCD = ['1-5', '100-105', '200-205', '300-305', '400-405', '500-505'];
const legendC = ['1-5', '50-55', '100-105'];
const legendF = ['N=1-150'];

const xTicksA = [-0.4, -0.3, -0.2, -0.1, 0, 0.1, 0.2, 0.3, 0.4];
const yTicksA = [-0.02, 0, 0.02, 0.04, 0.06, 0.08, 0.1];
const xTicksB = [-0.3, -0.2, -0.1, 0, 0.1, 0.2, 0.3, 0.4];
const yTicksB = [-0.02, 0, 0.02, 0.04, 0.06, 0.08, 0.1, 0.12, 0.14];
const xTicksC = [-0.6, -0.4, -0.2, 0, 0.2, 0.4];
const yTicksC = [-0.1, -0.05, 0, 0.05, 0.1, 0.15, 0.2, 0.25, 0.3, 0.35];
const xTicksD = [-0.4, -0.3, -0.2, -0.1, 0, 0.1, 0.2, 0.3, 0.4];
const yTicksD = [-0.06, -0.04, -0.02, 0, 0.02, 0.04, 0.06, 0.08, 0.1];
const xTicksE = [-0.4, -0.2, 0, 0.2, 0.4];
const yTicksE = [-0.05, 0, 0.05, 0.1, 0.15, 0.2, 0.25];
const xTicksF = [-0.4, -0.2, 0, 0.2, 0.4, 0.6];
const yTicksF = [-0.2, -0.1, 0, 0.1, 0.2, 0.3, 0.4];

type Series = { color: string; loops: Loop[]; width: number; kind: 'smooth' | 'linear' | 'linearOpen' | 'smoothOpen' };
type LegendItem = { color: string; label: string; italicN: boolean };
type PanelCfg = {
  key: string;
  label: string;
  labelPos: [number, number];
  box: [number, number, number, number];
  xDomain: [number, number];
  yDomain: [number, number];
  axisAt: number;
  xTicks: number[];
  xMinorStep: number;
  xDec: number;
  yTicks: number[];
  yMinorStep: number;
  yDec: number;
  spaced: boolean;
  series: Series[];
  legendBox: [number, number, number, number];
  legendRow0: number;
  legendStep: number;
  legend: LegendItem[];
  yTitle: [number, number];
  xTitle: [number, number];
};

const colorsSix = [GRAY, RED, BLUE, GREEN, PURPLE, GOLD];
const mkLegend = (labels: string[], colors: string[]): LegendItem[] =>
  labels.map((l, i) => ({ color: colors[i], label: l, italicN: true }));

const panels: PanelCfg[] = [
  {
    key: 'a', label: '(a)', labelPos: [28, 76], box: [172, 115, 1043, 911],
    xDomain: [-0.45, 0.45], yDomain: [-0.025, 0.105], axisAt: 0,
    xTicks: xTicksA, xMinorStep: 0.05, xDec: 1, yTicks: yTicksA, yMinorStep: 0.01, yDec: 2, spaced: true,
    series: [
      { color: GRAY, loops: aGray, width: 1.8, kind: 'linear' },
      { color: GRAY, loops: aGrayOpen, width: 1.8, kind: 'linearOpen' },
      { color: RED, loops: aRed, width: 1.8, kind: 'linear' },
      { color: BLUE, loops: aBlue, width: 2, kind: 'linear' },
    ],
    legendBox: [733, 212, 994, 356], legendRow0: 241, legendStep: 45,
    legend: mkLegend(legendABCD.slice(0, 3), colorsSix),
    yTitle: [60, 516], xTitle: [613, 993],
  },
  {
    key: 'b', label: '(b)', labelPos: [1160, 76], box: [1305, 106, 2196, 912],
    xDomain: [-0.35, 0.45], yDomain: [-0.03, 0.1455], axisAt: 0,
    xTicks: xTicksB, xMinorStep: 0.05, xDec: 1, yTicks: yTicksB, yMinorStep: 0.01, yDec: 2, spaced: true,
    series: [
      { color: GRAY, loops: bGray, width: 2, kind: 'linearOpen' },
      { color: RED, loops: bRed, width: 3, kind: 'smooth' },
      { color: RED, loops: bRedJag, width: 1.8, kind: 'linearOpen' },
      { color: BLUE, loops: bBlue, width: 3.2, kind: 'smooth' },
      { color: BLUE, loops: bBlueJag, width: 2, kind: 'linearOpen' },
      { color: GREEN, loops: bGreen, width: 3.2, kind: 'smooth' },
      { color: PURPLE, loops: bPurple, width: 3.2, kind: 'smooth' },
      { color: GOLD, loops: bGold, width: 3.4, kind: 'smooth' },
    ],
    legendBox: [1878, 130, 2168, 412], legendRow0: 157, legendStep: 45.8,
    legend: mkLegend(legendABCD, colorsSix),
    yTitle: [1190, 509], xTitle: [1689, 990],
  },
  {
    key: 'c', label: '(c)', labelPos: [2295, 76], box: [2430, 108, 3323, 912],
    xDomain: [-0.65, 0.55], yDomain: [-0.125, 0.3566], axisAt: 0,
    xTicks: xTicksC, xMinorStep: 0.1, xDec: 1, yTicks: yTicksC, yMinorStep: 0.025, yDec: 2, spaced: true,
    series: [
      { color: GRAY, loops: cGray, width: 1.8, kind: 'linear' },
      { color: RED, loops: cRed, width: 3, kind: 'smooth' },
      { color: RED, loops: cRedExtra, width: 1.6, kind: 'smoothOpen' },
      { color: BLUE, loops: cBlue, width: 3.6, kind: 'smooth' },
    ],
    legendBox: [3003, 159, 3294, 303], legendRow0: 188, legendStep: 46,
    legend: mkLegend(legendC, [GRAY, RED, BLUE]),
    yTitle: [2318, 473], xTitle: [2905, 993],
  },
  {
    key: 'd', label: '(d)', labelPos: [28, 1154], box: [167, 1202, 1021, 1972],
    xDomain: [-0.45, 0.45], yDomain: [-0.0657, 0.1056], axisAt: 0,
    xTicks: xTicksD, xMinorStep: 0.05, xDec: 1, yTicks: yTicksD, yMinorStep: 0.01, yDec: 2, spaced: true,
    series: [
      { color: GRAY, loops: dGray, width: 2.4, kind: 'smooth' },
      { color: GRAY, loops: dGrayJag, width: 1.6, kind: 'linearOpen' },
      { color: RED, loops: dRed, width: 3.2, kind: 'smooth' },
      { color: BLUE, loops: dBlue, width: 3.4, kind: 'smooth' },
      { color: GREEN, loops: dGreen, width: 3.4, kind: 'smooth' },
      { color: PURPLE, loops: dPurple, width: 3.6, kind: 'smooth' },
      { color: GOLD, loops: dGold, width: 3.8, kind: 'smooth' },
    ],
    legendBox: [724, 1238, 1001, 1508], legendRow0: 1264, legendStep: 44,
    legend: mkLegend(legendABCD, colorsSix),
    yTitle: [60, 1576], xTitle: [583, 2027],
  },
  {
    key: 'e', label: '(e)', labelPos: [1158, 1161], box: [1302, 1185, 2190, 1985],
    xDomain: [-0.55, 0.55], yDomain: [-0.0547, 0.2754], axisAt: 0,
    xTicks: xTicksE, xMinorStep: 0.1, xDec: 1, yTicks: yTicksE, yMinorStep: 0.025, yDec: 2, spaced: true,
    series: [
      { color: GRAY, loops: eGray, width: 1.8, kind: 'linear' },
      { color: RED, loops: eRed, width: 3.2, kind: 'smooth' },
      { color: BLUE, loops: eBlue, width: 3.4, kind: 'smooth' },
      { color: GREEN, loops: eGreen, width: 3.2, kind: 'smooth' },
      { color: PURPLE, loops: ePurple, width: 2.6, kind: 'smooth' },
    ],
    legendBox: [1840, 1233, 2130, 1468], legendRow0: 1260, legendStep: 45.7,
    legend: mkLegend(legendABCD.slice(0, 5), colorsSix),
    yTitle: [1188, 1599], xTitle: [1751, 2065],
  },
  {
    key: 'f', label: '(f)', labelPos: [2300, 1141], box: [2430, 1179, 3323, 1984],
    xDomain: [-0.5, 0.65], yDomain: [-0.25, 0.41], axisAt: -0.05,
    xTicks: xTicksF, xMinorStep: 0.1, xDec: 1, yTicks: yTicksF, yMinorStep: 0.05, yDec: 1, spaced: false,
    series: [
      { color: BLACK, loops: fBlack, width: 2.8, kind: 'smooth' },
    ],
    legendBox: [3031, 1285, 3267, 1337], legendRow0: 1312, legendStep: 0,
    legend: legendF.map(l => ({ color: BLACK, label: l, italicN: false })),
    yTitle: [2333, 1563], xTitle: [2804, 2058],
  },
];

function fmt(v: number, dec: number, spaced: boolean) {
  const s = (Math.abs(v) < 1e-9 ? 0 : v).toFixed(dec);
  return spaced ? s.replace('.', '. ') : s;
}

function minorTicks(dom: [number, number], step: number, majors: number[]) {
  const out: number[] = [];
  for (let i = -40; i <= 40; i++) {
    const v = +(i * step).toFixed(4);
    if (v <= dom[0] + 1e-6 || v >= dom[1] - 1e-6) continue;
    if (majors.some(m => Math.abs(m - v) < 1e-6)) continue;
    out.push(v);
  }
  return out;
}

const Panel: React.FC<{ p: PanelCfg }> = ({ p }) => {
  const [bx0, by0, bx1, by1] = p.box;
  const x = d3.scaleLinear().domain(p.xDomain).range([bx0, bx1]);
  const y = d3.scaleLinear().domain(p.yDomain).range([by1, by0]);
  const ay = y(p.axisAt);
  const zx = x(0);

  const curves = {
    smooth: d3.curveCatmullRomClosed.alpha(0.5),
    smoothOpen: d3.curveCatmullRom.alpha(0.5),
    linear: d3.curveLinearClosed,
    linearOpen: d3.curveLinear,
  };

  const xMinor = minorTicks(p.xDomain, p.xMinorStep, p.xTicks);
  const yMinor = minorTicks(p.yDomain, p.yMinorStep, p.yTicks);
  const tickFont = 30;
  const [lx0, ly0, lx1, ly1] = p.legendBox;

  return (
    <g>
      <defs>
        <clipPath id={`clip-${p.key}`}>
          <rect x={bx0} y={by0} width={bx1 - bx0} height={by1 - by0} />
        </clipPath>
      </defs>
      <text x={p.labelPos[0]} y={p.labelPos[1]} fontFamily={SERIF} fontSize={52} fill="#111">{p.label}</text>

      {/* y tick labels */}
      {p.yTicks.map(v => (
        <text key={`yl${v}`} x={bx0 - 15} y={y(v) + 10} textAnchor="end" fontFamily={SERIF} fontSize={tickFont} fill="#2e2e2e">
          {fmt(v, p.yDec, p.spaced)}
        </text>
      ))}
      {/* x tick labels, below the axis line */}
      {p.xTicks.map(v => (
        <text key={`xl${v}`} x={x(v)} y={ay + 45} textAnchor="middle" fontFamily={SERIF} fontSize={tickFont} fill="#2e2e2e">
          {fmt(v, p.xDec, p.spaced)}
        </text>
      ))}

      <g clipPath={`url(#clip-${p.key})`}>
        {p.series.map((s, si) => {
          const gen = d3.line<Pt>().x(d => x(d[0])).y(d => y(d[1])).curve(curves[s.kind]);
          return s.loops.map((loop, li) => (
            <path key={`s${si}-${li}`} d={gen(loop) || ''} fill="none" stroke={s.color} strokeWidth={s.width} strokeLinejoin="round" />
          ));
        })}
      </g>

      {/* axes */}
      <line x1={bx0} x2={bx1} y1={ay} y2={ay} stroke="#000" strokeWidth={3.4} />
      <line x1={zx} x2={zx} y1={by0} y2={by1} stroke="#000" strokeWidth={2.6} />
      {p.xTicks.map(v => (
        <line key={`xt${v}`} x1={x(v)} x2={x(v)} y1={ay} y2={ay - 16} stroke="#000" strokeWidth={2.6} />
      ))}
      {xMinor.map(v => (
        <line key={`xm${v}`} x1={x(v)} x2={x(v)} y1={ay} y2={ay - 8} stroke="#000" strokeWidth={2.4} />
      ))}
      {p.yTicks.map(v => (
        <line key={`yt${v}`} x1={bx0} x2={bx0 + 13} y1={y(v)} y2={y(v)} stroke="#000" strokeWidth={2.6} />
      ))}
      {yMinor.map(v => (
        <line key={`ym${v}`} x1={bx0} x2={bx0 + 7} y1={y(v)} y2={y(v)} stroke="#000" strokeWidth={2.4} />
      ))}
      <rect x={bx0} y={by0} width={bx1 - bx0} height={by1 - by0} fill="none" stroke="#000" strokeWidth={3} />

      {/* legend */}
      <rect x={lx0} y={ly0} width={lx1 - lx0} height={ly1 - ly0} fill="#fff" stroke="#9a9a9a" strokeWidth={2.5} />
      {p.legend.map((it, i) => {
        const ry = p.legendRow0 + i * p.legendStep;
        return (
          <g key={`lg${i}`}>
            <line x1={lx0 + 7} x2={lx0 + 78} y1={ry} y2={ry} stroke={it.color} strokeWidth={2.6} />
            <text x={lx0 + 96} y={ry + 12} fontFamily={SERIF} fontSize={35} fill="#1a1a1a">
              {it.italicN ? (
                <>
                  <tspan fontStyle="italic">N</tspan>
                  <tspan>{` =${it.label}`}</tspan>
                </>
              ) : it.label}
            </text>
          </g>
        );
      })}

      {/* axis titles */}
      <text transform={`translate(${p.yTitle[0]},${p.yTitle[1]}) rotate(-90)`} textAnchor="middle" fontFamily={SERIF} fontSize={40} fill="#1a1a1a">
        Normalized Foundation Displacement <tspan fontStyle="italic">w/L</tspan>
      </text>
      <text x={p.xTitle[0]} y={p.xTitle[1]} textAnchor="middle" fontFamily={SERIF} fontSize={38} fill="#1a1a1a">
        Normalized Cyclic Load{'\u00a0\u00a0'}
        <tspan fontStyle="italic">V/V</tspan>
        <tspan fontSize={26} dy={9}>0</tspan>
      </text>
    </g>
  );
};

export default function App() {
  return (
    <svg
      width={W}
      height={H}
      viewBox={`0 0 ${W} ${H}`}
      style={{ position: 'absolute', left: 0, top: 0, display: 'block', background: '#fff' }}
    >
      <rect x={0} y={0} width={W} height={H} fill="#fff" />
      {panels.map(p => <Panel key={p.key} p={p} />)}
    </svg>
  );
}
